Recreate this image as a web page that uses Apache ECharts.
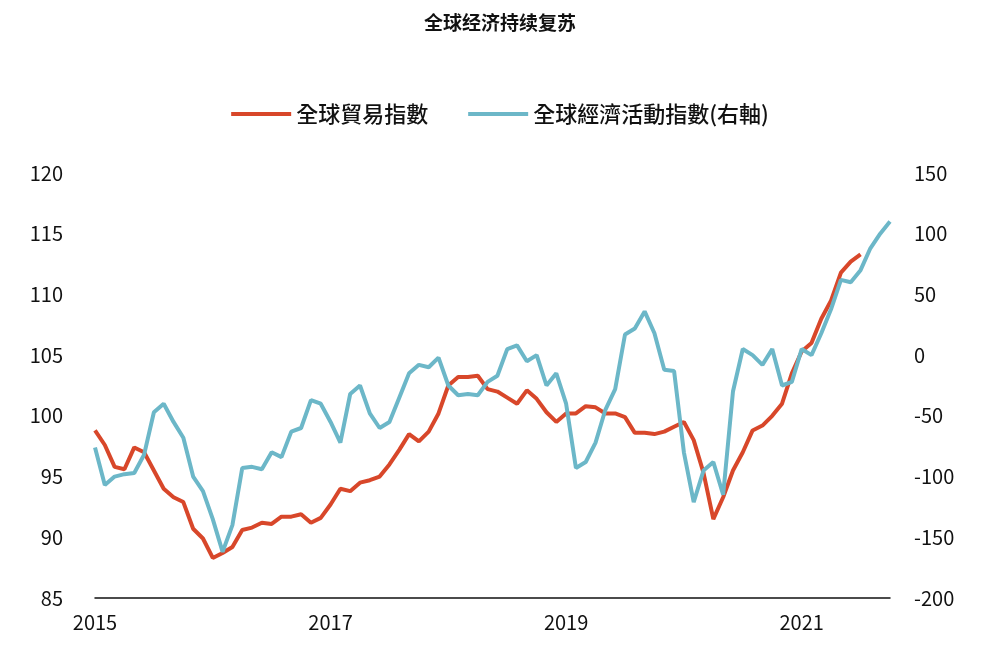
<!DOCTYPE html>
<html>
<head>
<meta charset="utf-8">
<script src="https://cdn.jsdelivr.net/npm/echarts@6/dist/echarts.min.js"></script>
<style>
  html, body { margin: 0; padding: 0; background: #fff; }
  #chart { width: 1000px; height: 669px; }
</style>
</head>
<body>
<div id="chart"></div>
<script>
// monthly, Jan 2015 - Oct 2021
var months = []
for (var y = 2015; y <= 2021; y++) {
  for (var m = 1; m <= 12; m++) {
    if (y === 2021 && m > 10) break
    months.push(y + '-' + (m < 10 ? '0' + m : m))
  }
}

var tradeIndex = [
  98.8, 97.6, 95.8, 95.6, 97.4, 97.0, 95.5, 94.0, 93.3, 92.9, 90.7, 89.9,
  88.3, 88.7, 89.2, 90.6, 90.8, 91.2, 91.1, 91.7, 91.7, 91.9, 91.2, 91.6,
  92.7, 94.0, 93.8, 94.5, 94.7, 95.0, 96.0, 97.2, 98.5, 97.9, 98.7, 100.2,
  102.5, 103.2, 103.2, 103.3, 102.2, 102.0, 101.5, 101.0, 102.1, 101.4, 100.3, 99.5,
  100.2, 100.2, 100.8, 100.7, 100.2, 100.2, 99.9, 98.6, 98.6, 98.5, 98.7, 99.1,
  99.5, 98.0, 95.3, 91.5, 93.3, 95.5, 97.0, 98.8, 99.2, 100.0, 101.0, 103.5,
  105.3, 106.0, 108.0, 109.5, 111.8, 112.7, 113.3
]

var activityIndex = [
  -76, -107, -100, -98, -97, -82, -47, -40, -55, -68, -100, -112,
  -135, -162, -140, -93, -92, -94, -80, -84, -63, -60, -37, -40,
  -55, -72, -32, -25, -48, -60, -55, -35, -15, -8, -10, -2,
  -25, -33, -32, -33, -22, -17, 5, 8, -5, 0, -25, -15,
  -40, -93, -88, -72, -45, -28, 17, 22, 36, 18, -12, -13,
  -80, -121, -95, -88, -115, -30, 5, 0, -8, 5, -25, -22,
  5, 0, 18, 38, 62, 60, 70, 88, 100, 110
]

var leftTicks = { min: 85, max: 120, interval: 5 }
var rightTicks = { min: -200, max: 150, interval: 50 }

var myChart = echarts.init(document.getElementById('chart'))
var labelFont = { color: '#111', fontSize: 20, fontFamily: 'Noto Sans CJK TC' }

var option = {
  animation: false,
  title: {
    text: '全球经济持续复苏',
    left: 'center',
    top: 8,
    textStyle: { fontSize: 19, fontWeight: 'bold', color: '#111', fontFamily: 'Noto Sans CJK SC' }
  },
  legend: {
    top: 98,
    left: 'center',
    itemWidth: 60,
    itemHeight: 4,
    itemGap: 40,
    icon: 'rect',
    textStyle: { fontSize: 22, fontWeight: 500, color: '#111', fontFamily: 'Noto Sans CJK TC' },
    data: ['全球貿易指數', '全球經濟活動指數(右軸)']
  },
  grid: { left: 95, right: 110, top: 173, bottom: 71 },
  xAxis: {
    type: 'category',
    data: months,
    boundaryGap: false,
    axisLine: { onZero: false, lineStyle: { color: '#111', width: 1.5 } },
    axisTick: { show: false },
    axisLabel: Object.assign({}, labelFont, {
      interval: function (i) { return i % 24 === 0 },
      formatter: function (v) { return v.slice(0, 4) },
      margin: 14
    })
  },
  yAxis: [
    {
      type: 'value',
      min: leftTicks.min, max: leftTicks.max, interval: leftTicks.interval,
      splitLine: { show: false },
      axisLine: { show: false },
      axisLabel: Object.assign({}, labelFont, { margin: 32 })
    },
    {
      type: 'value',
      min: rightTicks.min, max: rightTicks.max, interval: rightTicks.interval,
      splitLine: { show: false },
      axisLine: { show: false },
      axisLabel: Object.assign({}, labelFont, { margin: 24 })
    }
  ],
  series: [
    {
      name: '全球貿易指數',
      type: 'line',
      data: tradeIndex,
      showSymbol: false,
      lineStyle: { color: '#d8472a', width: 4 },
      itemStyle: { color: '#d8472a' }
    },
    {
      name: '全球經濟活動指數(右軸)',
      type: 'line',
      yAxisIndex: 1,
      data: activityIndex,
      showSymbol: false,
      lineStyle: { color: '#6cb7c8', width: 4 },
      itemStyle: { color: '#6cb7c8' }
    }
  ]
}
myChart.setOption(option)
</script>
</body>
</html>
